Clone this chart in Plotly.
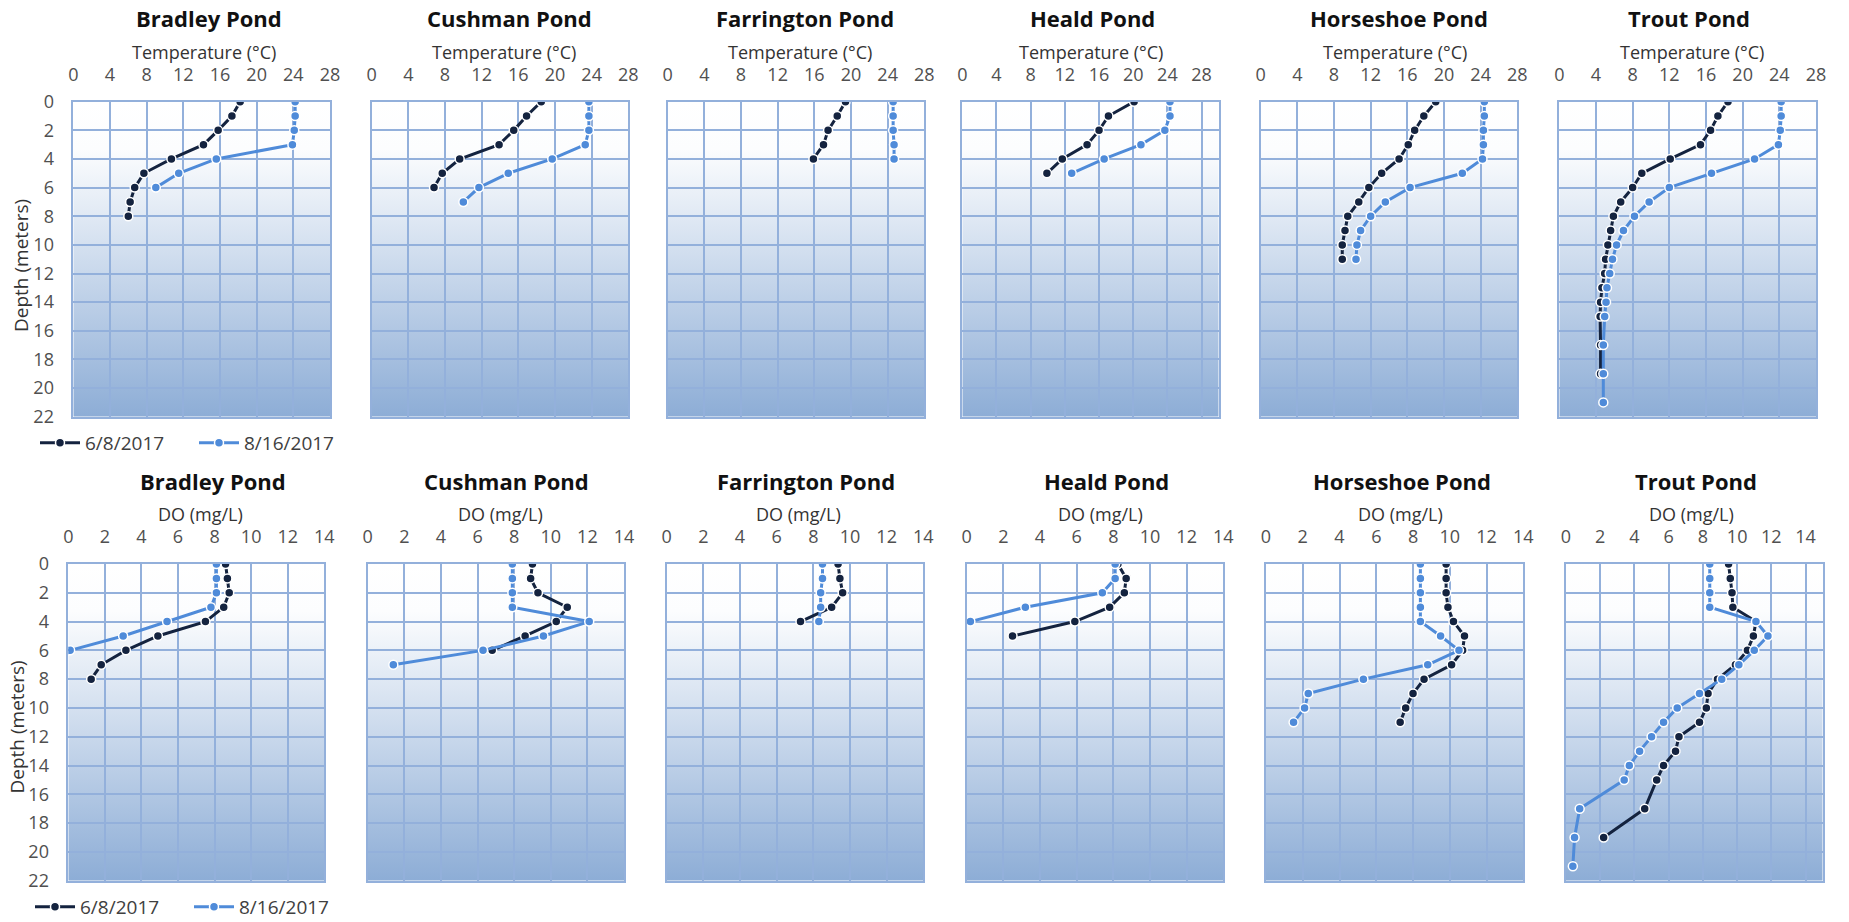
import base64
import plotly.graph_objects as go

# ---------------- data ----------------
ponds = ["Bradley Pond", "Cushman Pond", "Farrington Pond", "Heald Pond", "Horseshoe Pond", "Trout Pond"]
dates = ["6/8/2017", "8/16/2017"]

bradley_depth_jun = [0, 1, 2, 3, 4, 5, 6, 7, 8]
bradley_depth_aug = [0, 1, 2, 3, 4, 5, 6]
bradley_temp_jun = [18.2, 17.3, 15.8, 14.2, 10.7, 7.7, 6.7, 6.2, 6.0]
bradley_temp_aug = [24.2, 24.2, 24.1, 23.9, 15.6, 11.5, 9.0]
bradley_do_jun = [8.6, 8.7, 8.8, 8.5, 7.5, 4.9, 3.15, 1.8, 1.25]
bradley_do_aug = [8.1, 8.1, 8.1, 7.8, 5.4, 3.0, 0.1]

cushman_depth_jun = [0, 1, 2, 3, 4, 5, 6]
cushman_depth_aug = [0, 1, 2, 3, 4, 5, 6, 7]
cushman_temp_jun = [18.5, 16.9, 15.5, 13.9, 9.6, 7.7, 6.8]
cushman_temp_aug = [23.7, 23.7, 23.7, 23.3, 19.7, 14.9, 11.7, 10.0]
cushman_do_jun = [9.0, 8.9, 9.3, 10.9, 10.3, 8.6, 6.8]
cushman_do_aug = [7.9, 7.9, 7.9, 7.9, 12.1, 9.6, 6.3, 1.4]

farrington_depth_jun = [0, 1, 2, 3, 4]
farrington_depth_aug = [0, 1, 2, 3, 4]
farrington_temp_jun = [19.4, 18.5, 17.5, 17.0, 15.9]
farrington_temp_aug = [24.6, 24.6, 24.6, 24.7, 24.7]
farrington_do_jun = [9.35, 9.45, 9.6, 9.0, 7.3]
farrington_do_aug = [8.5, 8.5, 8.4, 8.4, 8.3]

heald_depth_jun = [0, 1, 2, 3, 4, 5]
heald_depth_aug_temp = [0, 1, 2, 3, 4, 5]
heald_depth_aug_do = [0, 1, 2, 3, 4]
heald_temp_jun = [20.1, 17.1, 16.0, 14.6, 11.7, 9.9]
heald_temp_aug = [24.3, 24.3, 23.7, 20.9, 16.6, 12.8]
heald_do_jun = [8.25, 8.7, 8.6, 7.8, 5.9, 2.5]
heald_do_aug = [8.1, 8.1, 7.4, 3.2, 0.2]

horseshoe_depth_jun = [0, 1, 2, 3, 4, 5, 6, 7, 8, 9, 10, 11]
horseshoe_depth_aug = [0, 1, 2, 3, 4, 5, 6, 7, 8, 9, 10, 11]
horseshoe_temp_jun = [19.1, 17.8, 16.8, 16.1, 15.1, 13.2, 11.8, 10.7, 9.5, 9.2, 8.9, 8.9]
horseshoe_temp_aug = [24.4, 24.4, 24.3, 24.3, 24.2, 22.0, 16.3, 13.6, 12.0, 10.9, 10.5, 10.4]
horseshoe_do_jun = [9.8, 9.8, 9.8, 9.9, 10.2, 10.8, 10.7, 10.1, 8.6, 8.0, 7.6, 7.3]
horseshoe_do_aug = [8.4, 8.4, 8.4, 8.4, 8.4, 9.5, 10.5, 8.8, 5.3, 2.3, 2.1, 1.5]

trout_depth_jun = [0, 1, 2, 3, 4, 5, 6, 7, 8, 9, 10, 11, 12, 13, 14, 15, 17, 19]
trout_depth_aug = [0, 1, 2, 3, 4, 5, 6, 7, 8, 9, 10, 11, 12, 13, 14, 15, 17, 19, 21]
trout_temp_jun = [18.4, 17.3, 16.5, 15.4, 12.1, 9.0, 8.0, 6.7, 5.9, 5.6, 5.3, 5.05, 4.95, 4.65, 4.5, 4.45, 4.5, 4.5]
trout_temp_aug = [24.2, 24.2, 24.1, 23.9, 21.3, 16.6, 12.0, 9.8, 8.2, 7.0, 6.25, 5.8, 5.5, 5.2, 5.1, 4.95, 4.8, 4.8, 4.8]
trout_do_jun = [9.5, 9.6, 9.7, 9.75, 11.1, 10.95, 10.6, 9.9, 8.85, 8.3, 8.2, 7.8, 6.6, 6.4, 5.7, 5.3, 4.6, 2.2]
trout_do_aug = [8.4, 8.4, 8.4, 8.4, 11.1, 11.8, 11.0, 10.1, 9.1, 7.8, 6.5, 5.7, 5.0, 4.3, 3.7, 3.4, 0.8, 0.5, 0.4]

temp_ranges = [[0, 28], [0, 28], [0, 28], [0, 30], [0, 28], [0, 28]]
do_ranges = [[0, 14], [0, 14], [0, 14], [0, 14], [0, 14], [0, 15]]
depth_range = [22, 0]

temp_series = [
    (bradley_depth_jun, bradley_temp_jun, bradley_depth_aug, bradley_temp_aug),
    (cushman_depth_jun, cushman_temp_jun, cushman_depth_aug, cushman_temp_aug),
    (farrington_depth_jun, farrington_temp_jun, farrington_depth_aug, farrington_temp_aug),
    (heald_depth_jun, heald_temp_jun, heald_depth_aug_temp, heald_temp_aug),
    (horseshoe_depth_jun, horseshoe_temp_jun, horseshoe_depth_aug, horseshoe_temp_aug),
    (trout_depth_jun, trout_temp_jun, trout_depth_aug, trout_temp_aug),
]
do_series = [
    (bradley_depth_jun, bradley_do_jun, bradley_depth_aug, bradley_do_aug),
    (cushman_depth_jun, cushman_do_jun, cushman_depth_aug, cushman_do_aug),
    (farrington_depth_jun, farrington_do_jun, farrington_depth_aug, farrington_do_aug),
    (heald_depth_jun, heald_do_jun, heald_depth_aug_do, heald_do_aug),
    (horseshoe_depth_jun, horseshoe_do_jun, horseshoe_depth_aug, horseshoe_do_aug),
    (trout_depth_jun, trout_do_jun, trout_depth_aug, trout_do_aug),
]

# ---------------- layout / style ----------------
W, H = 1849, 922
FONT = "Open Sans"
DARK = "#14233f"
LIGHT = "#4f8bd9"
GRID = "#93b0db"
TICKC = "#505050"

top_px_x = [(73.3, 330), (371.7, 628.3), (667.7, 924.3), (962.3, 1218.7), (1260.7, 1517.3), (1559.3, 1816)]
bot_px_x = [(68.3, 324.3), (367.7, 624), (666.7, 923.3), (966.7, 1223.3), (1266, 1523.3), (1566, 1822.7)]
top_px_y = (101.7, 416.7)
bot_px_y = (564, 880.7)

top_title_x = [209, 510, 805, 1092, 1398.5, 1689]
top_axtitle_x = [204, 504, 800, 1091, 1395, 1692]
bot_title_x = [213, 506, 805.5, 1106, 1402, 1695.7]
bot_axtitle_x = [200.5, 500.5, 798, 1100, 1400, 1691]


def px_x(p):
    return p / W


def px_y(p):
    return 1 - p / H


svg = ('<svg xmlns="http://www.w3.org/2000/svg" width="100" height="100" viewBox="0 0 100 100" '
       'preserveAspectRatio="none"><defs><linearGradient id="g" x1="0" y1="0" x2="0" y2="1">'
       '<stop offset="0" stop-color="#ffffff"/><stop offset="0.15" stop-color="#fcfdfe"/>'
       '<stop offset="1" stop-color="#8dadd6"/></linearGradient></defs>'
       '<rect x="0" y="0" width="100" height="100" fill="url(#g)"/></svg>')
svg_src = "data:image/svg+xml;base64," + base64.b64encode(svg.encode()).decode()

fig = go.Figure()
layout = dict(
    width=W, height=H, autosize=False,
    margin=dict(l=0, r=0, t=0, b=0, pad=0, autoexpand=False),
    paper_bgcolor="white", plot_bgcolor="rgba(0,0,0,0)",
    font=dict(family=FONT, size=18, color=TICKC),
    showlegend=True,
)
annotations = []
images = []

panels = []
for i in range(6):
    panels.append((i + 1, top_px_x[i], top_px_y, temp_ranges[i], 4, temp_series[i], "Temperature (°C)",
                   top_title_x[i], top_axtitle_x[i], 18, 51.5, "legend"))
for i in range(6):
    panels.append((i + 7, bot_px_x[i], bot_px_y, do_ranges[i], 2, do_series[i], "DO (mg/L)",
                   bot_title_x[i], bot_axtitle_x[i], 481, 514, "legend2"))

for k, (xk, (x0, x1), (y0, y1), xr, dt, series, axtitle, tx, ax, ty, aty, leg) in enumerate(panels, start=1):
    xa = "xaxis" if k == 1 else f"xaxis{k}"
    ya = "yaxis" if k == 1 else f"yaxis{k}"
    xs = "x" if k == 1 else f"x{k}"
    ys = "y" if k == 1 else f"y{k}"
    layout[xa] = dict(
        domain=[px_x(x0), px_x(x1)], range=xr, dtick=dt, tick0=0, side="top", anchor=ys,
        showgrid=True, gridcolor=GRID, gridwidth=1.5, zeroline=False,
        showline=True, mirror=True, linecolor=GRID, linewidth=1.5,
        ticks="", ticklabelstandoff=12, tickfont=dict(size=18, color=TICKC),
        automargin=False,
    )
    layout[ya] = dict(
        domain=[px_y(y1), px_y(y0)], range=depth_range, dtick=2, tick0=0, anchor=xs,
        showgrid=True, gridcolor=GRID, gridwidth=1.5, zeroline=False,
        showline=True, mirror=True, linecolor=GRID, linewidth=1.5,
        ticks="", showticklabels=(k in (1, 7)), ticklabelstandoff=14,
        tickfont=dict(size=18, color=TICKC), automargin=False,
    )
    images.append(dict(source=svg_src, xref="paper", yref="paper", x=px_x(x0), y=px_y(y0),
                       sizex=px_x(x1) - px_x(x0), sizey=px_y(y0) - px_y(y1),
                       xanchor="left", yanchor="top", sizing="stretch", layer="below"))
    dj, vj, da, va = series
    first = k in (1, 7)
    fig.add_trace(go.Scatter(
        x=vj, y=dj, mode="lines+markers", name=dates[0], xaxis=xs, yaxis=ys,
        line=dict(color=DARK, width=3),
        marker=dict(size=9, color=DARK, line=dict(color="white", width=1.5)),
        showlegend=first, legend=leg, hoverinfo="x+y"))
    fig.add_trace(go.Scatter(
        x=va, y=da, mode="lines+markers", name=dates[1], xaxis=xs, yaxis=ys,
        line=dict(color=LIGHT, width=3),
        marker=dict(size=9, color=LIGHT, line=dict(color="white", width=1.5)),
        showlegend=first, legend=leg, hoverinfo="x+y"))
    annotations.append(dict(text=f"<b>{ponds[(k - 1) % 6]}</b>", x=px_x(tx), y=px_y(ty),
                            xref="paper", yref="paper", showarrow=False, xanchor="center",
                            yanchor="middle", font=dict(family=FONT, size=22, color="#111111")))
    annotations.append(dict(text=axtitle, x=px_x(ax), y=px_y(aty), xref="paper", yref="paper",
                            showarrow=False, xanchor="center", yanchor="middle",
                            font=dict(family=FONT, size=18, color="#333333")))

annotations.append(dict(text="Depth (meters)", x=px_x(21), y=px_y(266), xref="paper", yref="paper",
                        showarrow=False, textangle=-90, xanchor="center", yanchor="middle",
                        font=dict(family=FONT, size=19, color="#333333")))
annotations.append(dict(text="Depth (meters)", x=px_x(16), y=px_y(727.5), xref="paper", yref="paper",
                        showarrow=False, textangle=-90, xanchor="center", yanchor="middle",
                        font=dict(family=FONT, size=19, color="#333333")))

leg_common = dict(orientation="h", xanchor="left", yanchor="middle", bgcolor="rgba(0,0,0,0)",
                  font=dict(family=FONT, size=19, color="#404040"), itemwidth=40,
                  entrywidth=104, entrywidthmode="pixels", tracegroupgap=0)
layout["legend"] = dict(x=px_x(35), y=px_y(443), **leg_common)
layout["legend2"] = dict(x=px_x(30), y=px_y(907), **leg_common)
layout["annotations"] = annotations
layout["images"] = images

fig.update_layout(**layout)
fig.write_html("out.html", config={"displayModeBar": False},
               post_script="document.body.style.margin='0';document.body.style.overflow='hidden';")
